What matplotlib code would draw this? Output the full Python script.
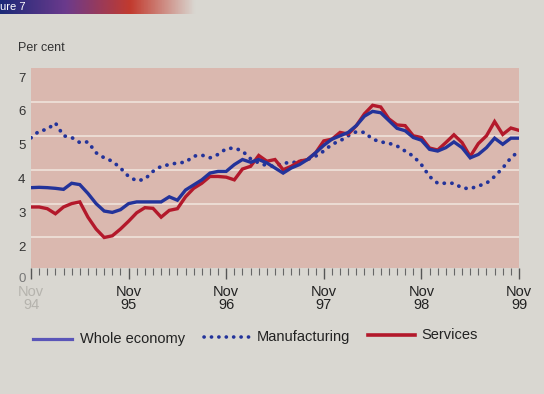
import matplotlib
matplotlib.use("Agg")
import matplotlib.pyplot as plt
import matplotlib.transforms as mtransforms
import numpy as np

plt.rcParams["font.family"] = ["Liberation Sans Narrow", "Liberation Sans", "DejaVu Sans"]

# monthly, Nov 1994 .. Nov 1999 (per cent)
whole_economy = [
    3.47, 3.48, 3.47, 3.45, 3.42, 3.60, 3.56, 3.30, 3.00, 2.78,
    2.74, 2.82, 3.00, 3.05, 3.05, 3.05, 3.05, 3.20, 3.10, 3.40,
    3.55, 3.70, 3.90, 3.95, 3.95, 4.15, 4.30, 4.22, 4.30, 4.20,
    4.05, 3.90, 4.05, 4.15, 4.30, 4.50, 4.72, 4.90, 5.00, 5.10,
    5.30, 5.58, 5.72, 5.68, 5.45, 5.22, 5.15, 4.95, 4.87, 4.60,
    4.55, 4.65, 4.82, 4.65, 4.35, 4.45, 4.65, 4.93, 4.75, 4.93,
    4.93,
]
manufacturing = [
    4.94, 5.14, 5.19, 5.38, 5.00, 4.95, 4.80, 4.82, 4.50, 4.35,
    4.25, 4.05, 3.80, 3.67, 3.72, 3.95, 4.10, 4.15, 4.20, 4.22,
    4.40, 4.43, 4.35, 4.45, 4.62, 4.64, 4.55, 4.32, 4.20, 4.12,
    4.10, 4.20, 4.20, 4.25, 4.30, 4.40, 4.55, 4.75, 4.85, 5.00,
    5.12, 5.10, 4.90, 4.82, 4.78, 4.70, 4.55, 4.40, 4.15, 3.80,
    3.60, 3.60, 3.60, 3.46, 3.44, 3.52, 3.60, 3.80, 4.05, 4.35,
    4.55,
]
services = [
    2.90, 2.90, 2.85, 2.70, 2.90, 3.00, 3.05, 2.60, 2.25, 2.00,
    2.05, 2.25, 2.48, 2.73, 2.88, 2.86, 2.60, 2.80, 2.85, 3.20,
    3.45, 3.60, 3.80, 3.80, 3.78, 3.70, 4.02, 4.10, 4.42, 4.25,
    4.30, 4.00, 4.10, 4.25, 4.30, 4.50, 4.85, 4.90, 5.10, 5.05,
    5.30, 5.65, 5.90, 5.85, 5.50, 5.32, 5.30, 5.00, 4.95, 4.64,
    4.58, 4.80, 5.03, 4.80, 4.39, 4.77, 5.00, 5.42, 5.04, 5.23,
    5.16,
]
x_labels = ["Nov\n94", "Nov\n95", "Nov\n96", "Nov\n97", "Nov\n98", "Nov\n99"]
y_ticks = [1.1, 2, 3, 4, 5, 6, 7]
y_labels = ["0", "2", "3", "4", "5", "6", "7"]

PAPER = "#d9d7d1"
PINK = "#dab8af"
BLUE = "#23339a"
RED = "#b3192b"

months = np.arange(len(whole_economy))

fig = plt.figure(figsize=(5.44, 3.94), dpi=100)
fig.patch.set_facecolor(PAPER)

# banner in the top-left corner
banner = fig.add_axes([0.0, 0.965, 0.36, 0.035])
banner.imshow(np.linspace(0, 1, 200)[None, :], cmap=matplotlib.colors.LinearSegmentedColormap.from_list(
    "b", ["#1d2a78", "#6b3a8c", "#c23a2e", PAPER]), aspect="auto", extent=(0, 1, 0, 1))
banner.text(0.0, 0.3, "ure 7", color="white", fontsize=8, transform=banner.transAxes)
banner.set_axis_off()

ax = fig.add_axes([31 / 544, 1 - 268 / 394, 488 / 544, 200 / 394])
ax.set_facecolor(PINK)
for s in ax.spines.values():
    s.set_visible(False)

for v in range(2, 7):
    ax.axhline(v, color="#f1e6df", linewidth=1.1, zorder=1)

ax.plot(months, manufacturing, color=BLUE, linewidth=2.7, linestyle=(0, (0.05, 2.0)),
        dash_capstyle="round", zorder=3)
ax.plot(months, services, color=RED, linewidth=2.4, solid_joinstyle="miter", zorder=4)
ax.plot(months, whole_economy, color=BLUE, linewidth=2.4, solid_joinstyle="miter", zorder=5)

ax.set_xlim(0, 60)
ax.set_ylim(1.1, 7)

ax.set_xticks(np.arange(0, 61, 12))
ax.set_xticklabels(x_labels, fontsize=10.5, linespacing=0.95, color="#222222")
ax.get_xticklabels()[0].set_color("#b5b3ad")
ax.set_xticks(np.arange(0, 61, 1), minor=True)
ax.tick_params(axis="x", which="major", length=8, width=1.0, color="#555555", pad=4)
ax.tick_params(axis="x", which="minor", length=5, width=0.8, color="#666666")

ax.set_yticks(y_ticks)
ax.set_yticklabels(y_labels, fontsize=9.5, color="#333333")
ax.tick_params(axis="y", length=0, pad=4)
offset = mtransforms.ScaledTranslation(0, -9 / 100, fig.dpi_scale_trans)
for lbl in ax.get_yticklabels():
    lbl.set_transform(lbl.get_transform() + offset)
ax.get_yticklabels()[0].set_color("#777777")

fig.text(18 / 544, 1 - 48 / 394, "Per cent", fontsize=9, color="#333333", va="center")

# legend drawn by hand in figure coordinates
ly = 1 - 339 / 394
fig.lines.append(plt.Line2D([33 / 544, 72 / 544], [ly, ly], color="#5a55b8", linewidth=2.3,
                            transform=fig.transFigure))
fig.text(80 / 544, ly, "Whole economy", fontsize=10.5, va="center", color="#222222")
fig.lines.append(plt.Line2D([204 / 544, 250 / 544], [ly + 0.005, ly + 0.005], color=BLUE, linewidth=2.6,
                            linestyle=(0, (0.05, 2.0)), dash_capstyle="round", transform=fig.transFigure))
fig.text(257 / 544, ly + 0.005, "Manufacturing", fontsize=10.5, va="center", color="#222222")
fig.lines.append(plt.Line2D([368 / 544, 415 / 544], [ly + 0.01, ly + 0.01], color=RED, linewidth=2.6,
                            transform=fig.transFigure))
fig.text(421 / 544, ly + 0.01, "Services", fontsize=10.5, va="center", color="#222222")

fig.savefig("out.png", dpi=100, facecolor=fig.get_facecolor())
